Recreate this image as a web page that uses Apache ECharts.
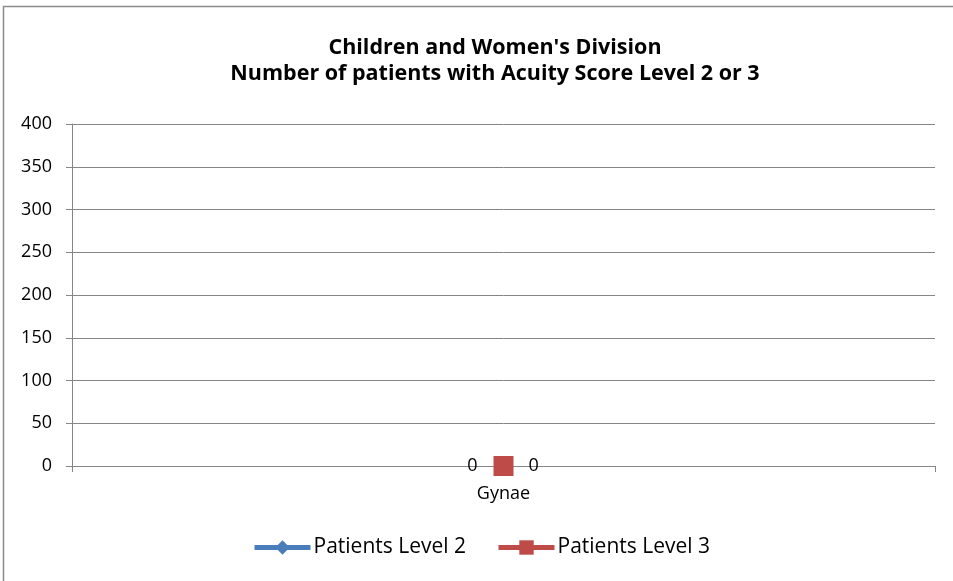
<!DOCTYPE html>
<html>
<head>
<meta charset="utf-8">
<script src="https://cdn.jsdelivr.net/npm/echarts@6/dist/echarts.min.js"></script>
<style>
  html, body { margin: 0; padding: 0; background: #fff; }
  #chart { width: 953px; height: 581px; }
</style>
</head>
<body>
<div id="chart"></div>
<script>
// Division acuity counts
const categories = ['Gynae'];
const level2 = [0];
const level3 = [0];
const yTicks = { min: 0, max: 400, interval: 50 };

const FONT = '"Open Sans", "Noto Sans", sans-serif';
const chart = echarts.init(document.getElementById('chart'));

chart.setOption({
  animation: false,
  backgroundColor: '#fff',
  title: {
    text: "Children and Women's Division\nNumber of patients with Acuity Score Level 2 or 3",
    left: 490,
    textAlign: 'center',
    top: 30,
    textStyle: { fontFamily: FONT, fontWeight: 'bold', fontSize: 21.5, color: '#000', lineHeight: 26 }
  },
  graphic: [{
    type: 'rect',
    shape: { x: 3.5, y: 6.5, width: 960, height: 600 },
    style: { fill: 'none', stroke: '#8c8c8c', lineWidth: 1.5 },
    silent: true
  }],
  legend: {
    bottom: 23,
    left: 252,
    padding: 0,
    itemWidth: 56,
    itemHeight: 18,
    itemGap: 30,
    textStyle: { fontFamily: FONT, fontSize: 21, color: '#000', padding: [0, 0, 0, -2] },
    data: [
      { name: 'Patients Level 2', lineStyle: { width: 5 } },
      { name: 'Patients Level 3', lineStyle: { width: 5 } }
    ]
  },
  grid: { left: 72, right: 18, top: 124, bottom: 115, containLabel: false },
  xAxis: {
    type: 'category',
    data: categories,
    boundaryGap: true,
    axisLine: { lineStyle: { color: '#868686', width: 1 } },
    axisTick: { show: true, length: 6, lineStyle: { color: '#868686' } },
    axisLabel: { fontFamily: FONT, fontSize: 18, color: '#000', margin: 19 }
  },
  yAxis: {
    type: 'value',
    min: yTicks.min,
    max: yTicks.max,
    interval: yTicks.interval,
    axisLine: { show: true, lineStyle: { color: '#868686' } },
    axisTick: { show: true, length: 6, lineStyle: { color: '#868686' } },
    splitLine: { lineStyle: { color: '#868686', width: 1 } },
    axisLabel: { fontFamily: FONT, fontSize: 18, color: '#000', margin: 20 }
  },
  series: [
    {
      name: 'Patients Level 2',
      type: 'line',
      data: level2,
      color: '#4a7ebb',
      symbol: 'diamond',
      symbolSize: 14,
      lineStyle: { width: 4 },
      label: { show: true, position: 'left', distance: 19, fontFamily: FONT, fontSize: 18, color: '#000' }
    },
    {
      name: 'Patients Level 3',
      type: 'line',
      data: level3,
      color: '#be4b48',
      symbol: 'rect',
      symbolSize: 20,
      lineStyle: { width: 4 },
      label: { show: true, position: 'right', distance: 15, fontFamily: FONT, fontSize: 18, color: '#000' }
    }
  ]
});
</script>
</body>
</html>
